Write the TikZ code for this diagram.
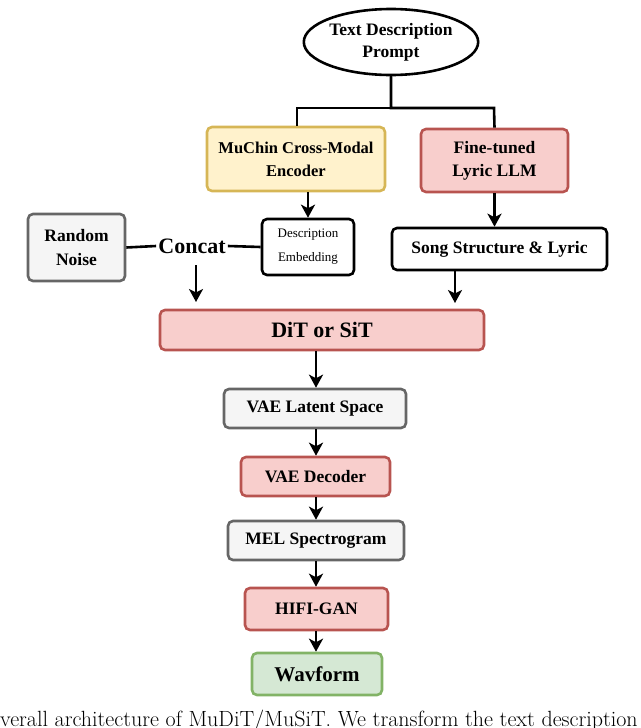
\documentclass[tikz,border=0pt]{standalone}
\usepackage{fontspec}
\newfontfamily\boxfont{Liberation Serif}
\usetikzlibrary{positioning,arrows.meta,shapes}
\definecolor{redfill}{HTML}{F8CECC}
\definecolor{redline}{HTML}{B85450}
\definecolor{greyfill}{HTML}{F5F5F5}
\definecolor{greyline}{HTML}{666666}
\definecolor{yelfill}{HTML}{FFF2CC}
\definecolor{yelline}{HTML}{D6B656}
\definecolor{grnfill}{HTML}{D5E8D4}
\definecolor{grnline}{HTML}{82B366}
\begin{document}
\begin{tikzpicture}[x=1pt,y=-1pt,line width=2.6pt,
  box/.style={rectangle,rounded corners=5pt,draw,align=center,inner sep=0pt,font=\boxfont\bfseries},
  red box/.style={box,fill=redfill,draw=redline},
  grey box/.style={box,fill=greyfill,draw=greyline},
  plain box/.style={box,fill=white,draw=black},
  flow/.style={-{Stealth[length=13pt,width=14pt,inset=3.5pt]}}
                      ]
   \useasboundingbox (0,0) rectangle (640,728);
   \clip (0,0) rectangle (640,728);
   \node[ellipse,draw,fill=white,minimum width=140pt,minimum height=66pt,inner sep=0pt,align=center,font=\boxfont\bfseries\fontsize{17.5}{22}\selectfont] (prompt) at (391,42) {Text Description\\Prompt};
   \node[box,fill=yelfill,draw=yelline,minimum width=178pt,minimum height=64pt,font=\boxfont\bfseries\fontsize{16.5}{23}\selectfont] (muchin) at (296,159) {MuChin Cross-Modal\\Encoder};
   \node[red box,minimum width=147pt,minimum height=63pt,font=\boxfont\bfseries\fontsize{17.5}{23}\selectfont] (llm) at (494.5,160.5) {Fine-tuned\\Lyric LLM};
   \node[plain box,minimum width=92pt,minimum height=56pt,font=\boxfont\fontsize{13}{24}\selectfont] (emb) at (308,247) {Description\\Embedding};
   \node[grey box,minimum width=97pt,minimum height=67pt,font=\boxfont\bfseries\fontsize{17.5}{24}\selectfont] (noise) at (76.5,247.5) {Random\\Noise};
   \node[font=\boxfont\bfseries\fontsize{22}{26}\selectfont,inner sep=1pt] (concat) at (192,246) {Concat};
   \coordinate (cin) at (196,265);
   \node[plain box,minimum width=215pt,minimum height=42pt,font=\boxfont\bfseries\fontsize{17.5}{21}\selectfont] (song) at (499.5,249) {Song Structure \& Lyric};
   \node[red box,minimum width=324pt,minimum height=40pt,font=\boxfont\bfseries\fontsize{22}{26}\selectfont] (dit) at (322,330) {DiT or SiT};
   \node[grey box,minimum width=182pt,minimum height=39pt,font=\boxfont\bfseries\fontsize{17.5}{21}\selectfont] (latent) at (315,408.5) {VAE Latent Space};
   \node[red box,minimum width=149pt,minimum height=39pt,font=\boxfont\bfseries\fontsize{17.5}{21}\selectfont] (dec) at (315.5,476.5) {VAE Decoder};
   \node[grey box,minimum width=176pt,minimum height=39pt,font=\boxfont\bfseries\fontsize{17.5}{21}\selectfont] (mel) at (316,540.5) {MEL Spectrogram};
   \node[red box,minimum width=143pt,minimum height=42pt,font=\boxfont\bfseries\fontsize{17.5}{21}\selectfont] (hifi) at (316.5,609) {HIFI-GAN};
   \node[box,fill=grnfill,draw=grnline,minimum width=130pt,minimum height=42pt,font=\boxfont\bfseries\fontsize{21}{24}\selectfont] (wav) at (317,674) {Wavform};
   \node[anchor=base west,inner sep=0pt,font=\fontsize{22}{24}\selectfont] (cap) at (-17,726) {Overall architecture of MuDiT/MuSiT. We transform the text description};
   % prompt fans out to both branches
   \draw (prompt.south) |- (297,108) -- (muchin.north -| 297,0);
   \draw (prompt.south) |- (494,108) -- (llm.north);
   \draw (noise.east) -- (concat.west);
   \draw (concat.east) -- (emb.west);
   \draw[flow] (muchin.south -| emb.north) -- (emb.north);
   \draw[flow] (llm.south) -- (song.north -| llm.south);
   \draw[flow] (cin) -- (196,302);
   \draw[flow] (song.south -| 455,0) -- (455,303);
   \draw[flow] (dit.south -| 316,0) -- (latent.north -| 316,0);
   \draw[flow] (latent.south -| 316,0) -- (dec.north -| 316,0);
   \draw[flow] (dec.south -| 316,0) -- (mel.north -| 316,0);
   \draw[flow] (mel.south -| 316,0) -- (hifi.north -| 316,0);
   \draw[flow] (hifi.south -| 316,0) -- (wav.north -| 316,0);
\end{tikzpicture}
\end{document}
